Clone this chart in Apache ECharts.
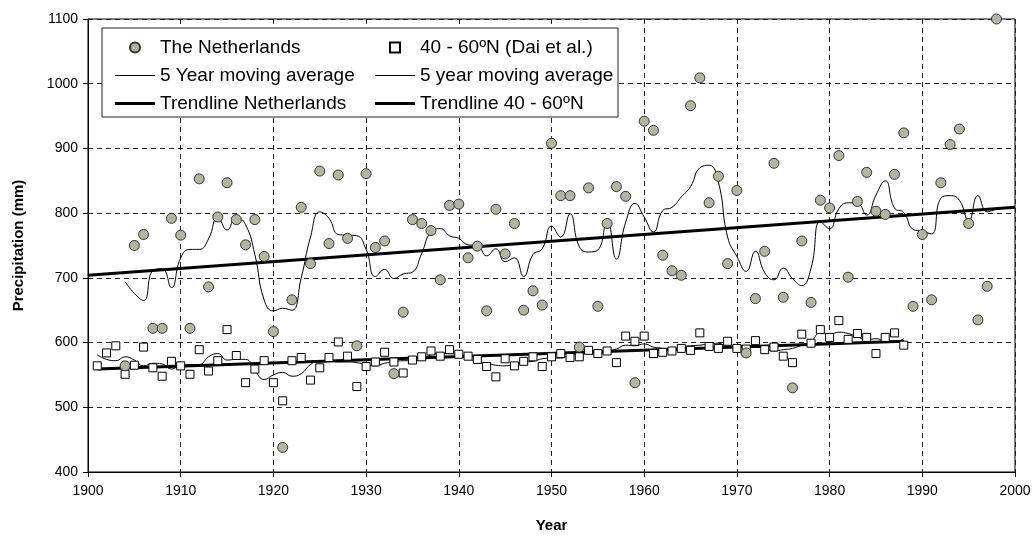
<!DOCTYPE html>
<html>
<head>
<meta charset="utf-8">
<script src="https://cdn.jsdelivr.net/npm/echarts@6/dist/echarts.min.js"></script>
<style>
  html, body { margin: 0; padding: 0; background: #fff; }
  #main { width: 1034px; height: 538px; }
</style>
</head>
<body>
<div id="main"></div>
<script>
// The Netherlands, annual precipitation (mm), 1904 - 1998
var nlStart = 1904;
var nlValues = [
  564, 750, 767, 622, 622, 792, 766, 622, 853, 686,
  794, 847, 790, 751, 790, 733, 617, 438, 666, 809,
  722, 865, 753, 859, 761, 595, 861, 747, 757, 552,
  647, 790, 784, 773, 697, 812, 814, 731, 749, 649,
  806, 737, 784, 650, 680, 658, 908, 827, 827, 593,
  839, 656, 784, 841, 826, 538, 942, 928, 735, 711,
  704, 966, 1009, 816, 857, 722, 835, 584, 668, 741,
  877, 670, 530, 757, 662, 820, 808, 889, 701, 818,
  863, 803, 798, 860, 924, 656, 767, 666, 847, 906,
  930, 784, 635, 687, 1100
];
// 5 year moving average as drawn (1904 - 1998)
var nlAvg = [
  694, 676, 665, 711, 714, 685, 731, 744, 744, 760,
  794, 774, 794, 782, 736, 666, 649, 653, 650, 700,
  763, 802, 792, 767, 766, 765, 744, 702, 713, 699,
  706, 709, 738, 771, 776, 765, 761, 751, 750, 734,
  745, 725, 731, 702, 736, 745, 780, 763, 799, 748,
  740, 743, 789, 729, 786, 815, 794, 771, 804, 809,
  825, 841, 870, 874, 848, 763, 733, 710, 741, 708,
  697, 715, 699, 688, 715, 787, 776, 807, 816, 815,
  797, 828, 850, 808, 801, 775, 772, 768, 823, 827,
  820, 788, 827, 802, 807
];

// 40 - 60ºN (Dai et al.), 1901 - 1988
var daiStart = 1901;
var daiValues = [
  564, 584, 595, 551, 565, 593, 561, 548, 571, 564,
  551, 589, 556, 572, 620, 580, 538, 559, 572, 538,
  510, 572, 577, 542, 561, 577, 601, 579, 532, 563,
  570, 585, 570, 553, 573, 578, 587, 579, 589, 582,
  579, 574, 563, 547, 575, 564, 571, 578, 563, 578,
  583, 577, 578, 588, 583, 587, 569, 610, 602, 610,
  583, 585, 587, 591, 588, 615, 594, 591, 602, 591,
  590, 603, 589, 593, 579, 569, 613, 599, 620, 608,
  634, 605, 614, 608, 583, 608, 615, 596
];
var daiAvg = [
  581, 574, 572, 578, 573, 564, 568, 567, 559, 565,
  566, 566, 578, 583, 573, 574, 574, 557, 543, 550,
  554, 548, 552, 566, 572, 572, 570, 570, 569, 566,
  564, 568, 570, 572, 572, 574, 581, 583, 583, 581,
  577, 569, 568, 565, 564, 567, 570, 571, 575, 576,
  576, 581, 582, 583, 581, 587, 590, 596, 595, 598,
  593, 591, 587, 593, 595, 596, 598, 599, 594, 595,
  595, 593, 591, 587, 589, 591, 596, 602, 615, 613,
  616, 614, 609, 604, 606, 602, 601, 606
];

// linear trendlines, end points
var nlTrend = [[1900, 704], [2000, 809]];
var daiTrend = [[1901, 559], [1988, 602]];

var seriesNames = [
  'The Netherlands', '40 - 60ºN (Dai et al.)',
  '5 Year moving average', '5 year moving average',
  'Trendline Netherlands', 'Trendline 40 - 60ºN'
];

function pairs(start, vals) {
  return vals.map(function (v, i) { return [start + i, v]; });
}

var font = "'Liberation Sans', Arial, sans-serif";
var thinIcon = 'path://M0,0h40v1h-40z';
var thickIcon = 'path://M0,0h40v3h-40z';
var squareIcon = 'path://M0,0h8v8h-8z';

var myChart = echarts.init(document.getElementById('main'));

var gridLine = { show: true, lineStyle: { color: '#222', type: [5, 4], width: 1 } };
var legendText = { fontSize: 19, lineHeight: 19, color: '#000', fontFamily: font };

myChart.setOption({
  animation: false,
  backgroundColor: '#fff',
  textStyle: { fontFamily: font },
  grid: { left: 88, right: 19, top: 19, bottom: 62, show: true, borderColor: '#000', borderWidth: 1 },
  xAxis: {
    type: 'value', min: 1900, max: 2000, interval: 10,
    name: 'Year', nameLocation: 'middle', nameGap: 46,
    nameTextStyle: { fontSize: 15, fontWeight: 'bold', color: '#000', fontFamily: font },
    axisLine: { lineStyle: { color: '#000' } },
    axisTick: { show: true, length: 5, lineStyle: { color: '#000' } },
    axisLabel: { color: '#000', fontSize: 14, margin: 12, fontFamily: font,
      formatter: function (v) { return String(v); } },
    splitLine: gridLine
  },
  yAxis: {
    type: 'value', min: 400, max: 1100, interval: 100,
    name: 'Precipitation (mm)', nameLocation: 'middle', nameGap: 62,
    nameTextStyle: { fontSize: 15, fontWeight: 'bold', color: '#000', fontFamily: font },
    axisLine: { show: true, lineStyle: { color: '#000' } },
    axisTick: { show: true, length: 5, lineStyle: { color: '#000' } },
    axisLabel: { color: '#000', fontSize: 14, margin: 10, fontFamily: font,
      formatter: function (v) { return String(v); } },
    splitLine: gridLine
  },
  graphic: [{
    type: 'rect', z: 3,
    shape: { x: 102, y: 28, width: 516, height: 89 },
    style: { fill: '#fff', stroke: '#222', lineWidth: 1 }
  }],
  legend: [{
    orient: 'vertical', left: 110, top: 33, itemWidth: 40, itemHeight: 10, itemGap: 9,
    textStyle: legendText,
    data: [
      { name: seriesNames[0] },
      { name: seriesNames[2], icon: thinIcon },
      { name: seriesNames[4], icon: thickIcon }
    ]
  }, {
    orient: 'vertical', left: 370, top: 33, itemWidth: 40, itemHeight: 10, itemGap: 9,
    textStyle: legendText,
    data: [
      { name: seriesNames[1], icon: squareIcon },
      { name: seriesNames[3], icon: thinIcon },
      { name: seriesNames[5], icon: thickIcon }
    ]
  }],
  series: [{
    name: seriesNames[3], type: 'line', data: pairs(daiStart, daiAvg),
    smooth: 0.5, symbol: 'none', z: 3,
    lineStyle: { color: '#000', width: 1 }, itemStyle: { color: '#000' }
  }, {
    name: seriesNames[2], type: 'line', data: pairs(nlStart, nlAvg),
    smooth: 0.5, symbol: 'none', z: 3,
    lineStyle: { color: '#000', width: 1 }, itemStyle: { color: '#000' }
  }, {
    name: seriesNames[5], type: 'line', data: daiTrend, symbol: 'none', z: 4,
    lineStyle: { color: '#000', width: 3 }, itemStyle: { color: '#000' }
  }, {
    name: seriesNames[4], type: 'line', data: nlTrend, symbol: 'none', z: 4,
    lineStyle: { color: '#000', width: 3 }, itemStyle: { color: '#000' }
  }, {
    name: seriesNames[1], type: 'scatter', data: pairs(daiStart, daiValues),
    symbol: 'rect', symbolSize: 8, z: 5,
    itemStyle: { color: '#fff', borderColor: '#000', borderWidth: 1, opacity: 1 }
  }, {
    name: seriesNames[0], type: 'scatter', data: pairs(nlStart, nlValues),
    symbol: 'circle', symbolSize: 10, z: 6,
    itemStyle: { color: '#b4b4a6', borderColor: '#333', borderWidth: 1, opacity: 1 }
  }]
});
</script>
</body>
</html>
